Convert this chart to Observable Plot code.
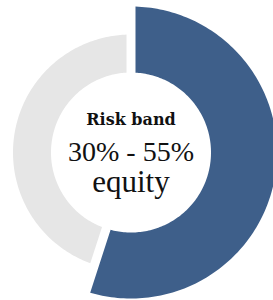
<!DOCTYPE html>
<html><head><meta charset="utf-8">
<script src="https://cdn.jsdelivr.net/npm/d3@7"></script>
<script src="https://cdn.jsdelivr.net/npm/@observablehq/plot@0.6"></script>
<style>body{margin:0;background:#fff}</style>
</head><body><div id="chart"></div>
<script>
const categories = ["Equity", "Other"];
const values = [55, 45];
const colors = ["#3e5f8a", "#e6e6e6"];
const labelTitle = "Risk band";
const labelRange = "30% - 55%";
const labelUnit = "equity";

const W = 273, H = 300;
const cx = 130.5, cy = 152;
const inner = 80;
const outerR = {Equity: 146, Other: 118};
const pad = 4.5;

const pie = d3.pie().sort(null).value(d => d.value)(categories.map((c, i) => ({cat: c, value: values[i]})));
const pts = [];
for (const s of pie) {
  const c = s.data.cat;
  const ro = outerR[c];
  const ring = [];
  const n = 160;
  const a0o = s.startAngle + pad / ro, a1o = s.endAngle - pad / ro;
  const a0i = s.startAngle + pad / inner, a1i = s.endAngle - pad / inner;
  for (let k = 0; k <= n; k++) {
    const a = a0o + (a1o - a0o) * k / n;
    ring.push([cx + ro * Math.sin(a), cy - ro * Math.cos(a)]);
  }
  for (let k = n; k >= 0; k--) {
    const a = a0i + (a1i - a0i) * k / n;
    ring.push([cx + inner * Math.sin(a), cy - inner * Math.cos(a)]);
  }
  ring.forEach(([x, y], j) => pts.push({cat: c, x, y, j}));
}

const texts = [
  {t: labelTitle, y: 124, size: 16, weight: "bold", fam: "DejaVu Serif", ls: "-0.6px"},
  {t: labelRange, y: 160, size: 28, weight: "normal", fam: "Liberation Serif", ls: "-0.3px"},
  {t: labelUnit, y: 191, size: 31, weight: "normal", fam: "Liberation Serif", ls: "0px"}
];

const chart = Plot.plot({
  width: W, height: H,
  margin: 0,
  x: {domain: [0, W], range: [0, W], axis: null},
  y: {domain: [0, H], range: [0, H], axis: null},
  color: {domain: categories, range: colors},
  marks: [
    Plot.line(pts, {x: "x", y: "y", z: "cat", fill: "cat", stroke: "none", curve: "linear-closed"}),
    ...texts.map(d => Plot.text([d], {x: () => cx, y: "y", text: "t", fontSize: d.size, fontWeight: d.weight, fontFamily: d.fam, fill: "#111", lineAnchor: "bottom", textAnchor: "middle", style: {letterSpacing: d.ls}}))
  ]
});
chart.querySelectorAll("text").forEach(t => {});
document.getElementById("chart").appendChild(chart);
</script></body></html>
